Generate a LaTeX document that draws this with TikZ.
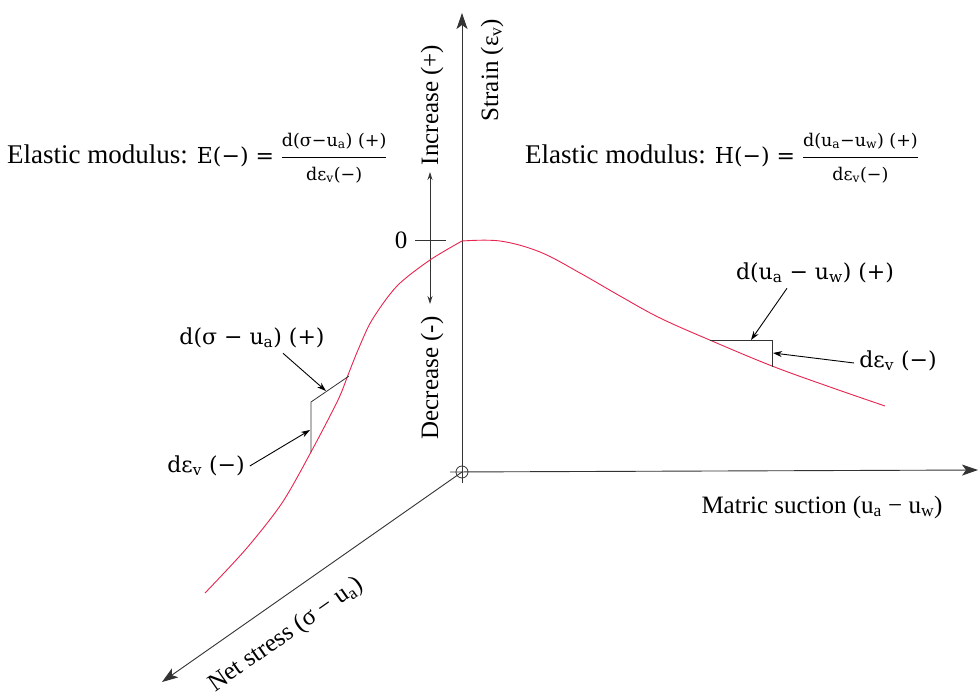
\documentclass[tikz,border=0pt]{standalone}
\usepackage{fontspec}
\setmainfont{Liberation Serif}
\newfontfamily\camb{DejaVu Serif}
\usetikzlibrary{arrows.meta, positioning, calc}
\definecolor{curvered}{HTML}{E8234F}
\newcommand\fracfont{\camb\fontsize{17.5}{19}\selectfont}
\newcommand\lhsfont{\camb\fontsize{22}{24}\selectfont}

\begin{document}
\begin{tikzpicture}[x=1pt, y=-1pt,
    every node/.style={inner sep=1pt},
    txt/.style={font=\fontsize{25}{28}\selectfont},
    modtxt/.style={font=\fontsize{27}{30}\selectfont},
    lbl/.style={font=\camb\fontsize{22}{24}\selectfont},
    axis/.style={draw=black!80, line width=0.9pt, -{Stealth[length=16pt, width=11pt, inset=4pt]}},
    pointer/.style={draw=black, line width=0.9pt, -{Stealth[length=9pt, width=6pt]}},
    curve/.style={draw=curvered, line width=0.9pt}]
    \useasboundingbox (0,0) rectangle (980,698);

    % axes
    \coordinate (O) at (462,472);
    \coordinate (ybot) at (462,483);
    \coordinate (ytop) at (462,13);
    \coordinate (xbeg) at (450,472);
    \coordinate (xend) at (978,470);
    \coordinate (zend) at (162,682);
    \draw[axis] (ybot) -- (ytop);
    \draw[axis] (xbeg) -- (xend);
    \draw[axis] (O) -- (zend);
    \draw[black!80, line width=0.8pt] (O) circle[radius=6pt];

    \node[txt, rotate=90] (strain) at (492,70) {Strain (ε\textsubscript{v})};
    \node[txt] (matric) at (822,507) {Matric suction (u\textsubscript{a} − u\textsubscript{w})};
    \node[txt, rotate=35] (netstress) at (286,635) {Net stress (σ − u\textsubscript{a})};

    % increase / decrease
    \node[txt, rotate=90] (incr) at (432,105) {Increase (+)};
    \node[txt, rotate=90] (decr) at (432,378) {Decrease (-)};
    \coordinate (incup) at (430,172);
    \coordinate (incdn) at (430,304);
    \draw[black!80, line width=0.8pt, {Stealth[length=8pt, width=5pt]}-{Stealth[length=8pt, width=5pt]}] (incup) -- (incdn);
    \node[txt] (zero) at (401,240) {0};
    \coordinate (tickl) at (415,240);
    \coordinate (tickr) at (446,240);
    \draw[black!80, line width=0.8pt] (tickl) -- (tickr);

    % curve
    \draw[curve] plot[smooth, tension=0.5] coordinates {(205,593) (246,549) (282,503) (311,452) (338,400) (348,375) (358,350) (372,320) (397,286) (430,260) (462,241)};
    \draw[curve] plot[smooth, tension=0.6] coordinates {(462,241) (500,241) (540,252) (580,273) (620,296) (660,318) (712,341) (772,366) (830,387) (885,406)};

    % increments
    \coordinate (lt) at (349,376);
    \coordinate (lc) at (311,402);
    \coordinate (lb) at (311,452);
    \draw[black!80, line width=0.8pt] (lt) -- (lc) -- (lb);
    \coordinate (rl) at (710,340);
    \coordinate (rc) at (772,340);
    \coordinate (rb) at (772,367);
    \draw[black!80, line width=0.8pt] (rl) -- (rc) -- (rb);

    \node[lbl] (dsig) at (252,338) {d(σ − u\textsubscript{a}) (+)};
    \node[lbl] (depsl) at (206,466) {dε\textsubscript{v} (−)};
    \node[lbl] (dsuc) at (815,273) {d(u\textsubscript{a} − u\textsubscript{w}) (+)};
    \node[lbl] (depsr) at (898,361) {dε\textsubscript{v} (−)};
    \coordinate (dsigtip) at (326,391);
    \coordinate (depsltip) at (310,430);
    \coordinate (dsuctip) at (751,340);
    \coordinate (depsrtip) at (773,353);
    \draw[pointer] ($(dsig.south)+(31,4)$) -- (dsigtip);
    \draw[pointer] ($(depsl.east)+(4,0)$) -- (depsltip);
    \draw[pointer] ($(dsuc.south)+(-28,4)$) -- (dsuctip);
    \draw[pointer] ($(depsr.west)+(-4,2)$) -- (depsrtip);

    % moduli
    \node[modtxt, anchor=west] (emod) at (6,158) {Elastic modulus: {\lhsfont E(−) =} $\displaystyle\frac{\mbox{\fracfont d(σ−u\textsubscript{a}) (+)}}{\mbox{\fracfont dε\textsubscript{v}(−)}}$};
    \node[modtxt, anchor=west] (hmod) at (524,158) {Elastic modulus: {\lhsfont H(−) =} $\displaystyle\frac{\mbox{\fracfont d(u\textsubscript{a}−u\textsubscript{w}) (+)}}{\mbox{\fracfont dε\textsubscript{v}(−)}}$};
\end{tikzpicture}
\end{document}
